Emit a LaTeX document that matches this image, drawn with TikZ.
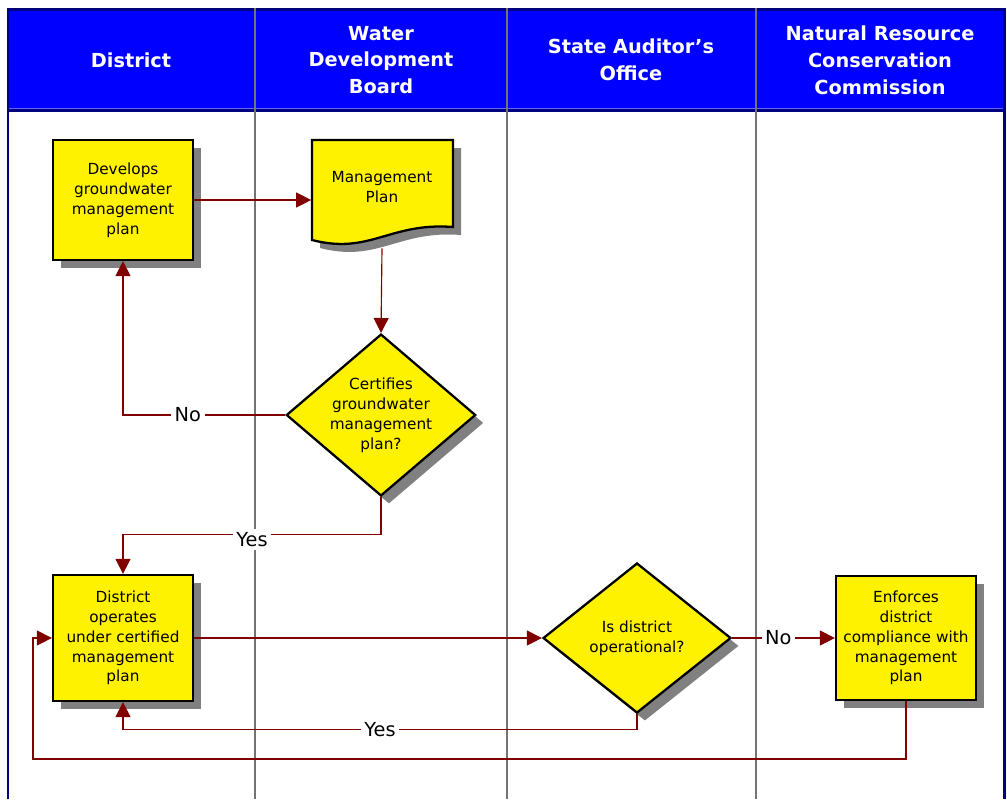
\documentclass[tikz,border=0pt]{standalone}
\usepackage{fontspec}
\setmainfont{DejaVu Sans}
\usetikzlibrary{arrows.meta,shapes.geometric,shadows,positioning}

\definecolor{laneblue}{RGB}{0,0,255}
\definecolor{lanenavy}{RGB}{0,0,128}
\definecolor{flowred}{RGB}{128,0,0}
\definecolor{shadowgray}{RGB}{128,128,128}

\tikzset{
  stepshadow/.style={drop shadow={shadow xshift=4.5pt, shadow yshift=-4.5pt, fill=shadowgray, opacity=1}},
  taskbox/.style={rectangle, draw=black, line width=1.3pt, fill=yellow, minimum width=2.8cm,
    minimum height=2.4cm, text width=2.6cm, align=center, inner sep=0pt,
    font=\fontsize{8.7}{11.3}\selectfont, stepshadow},
  decision/.style={diamond, draw=black, line width=1.3pt, fill=yellow, inner sep=0pt,
    align=center, font=\fontsize{8.7}{11.3}\selectfont, stepshadow},
  flow/.style={draw=flowred, line width=0.65pt},
  flowarrow/.style={flow, -{Triangle[length=8.5pt,width=8.5pt]}},
  answer/.style={fill=white, font=\fontsize{11}{13}\selectfont, inner sep=2pt},
  lanehead/.style={text=white, font=\bfseries\fontsize{11}{15.3}\selectfont, align=center},
  lane/.style={draw=black!55, line width=1.2pt}
}

\begin{document}
\begin{tikzpicture}[x=0.02cm, y=-0.02cm]
    \useasboundingbox (0,0) rectangle (1007,799);

    \fill[laneblue] (7,8) rectangle (1005,110);
    \draw[blue!60!white, line width=0.5pt] (9,108) -- (1003,108);
    \draw[lanenavy, line width=1.7pt] (8,799) -- (8,9) -- (1004,9) -- (1004,799);
    \draw[lanenavy, line width=1.5pt] (8,110.5) -- (1004,110.5);

    \foreach \x in {255,507,756}
    \draw[lane] (\x,8) -- (\x,799);

    \node[lanehead] (hdistrict) at (131,60) {District};
    \node[lanehead] (hboard) at (381,60) {Water\\Development\\Board};
    \node[lanehead] (hauditor) at (631,60) {State Auditor’s\\Office};
    \node[lanehead] (hcommission) at (880,60) {Natural Resource\\Conservation\\Commission};

    \node[taskbox] (develop) at (123,200) {Develops\\groundwater\\management\\plan};

    \fill[shadowgray] (320,148) -- (461,148) -- (461,235) .. controls (398,230) and (378,263) .. (320,248) -- cycle;
    \draw[line width=1.3pt, fill=yellow] (312,140) -- (453,140) -- (453,227) .. controls (390,222) and (370,255) .. (312,240) -- cycle;
    \node[minimum width=2.82cm, minimum height=2.44cm, align=center,
      font=\fontsize{8.7}{11.3}\selectfont] (plan) at (382,187) {Management\\Plan};

    \node[decision, minimum width=3.66cm, minimum height=3.14cm, aspect=1.17] (certify) at (381,415)
      {Certifies\\groundwater\\management\\plan?};

    \node[taskbox, minimum height=2.52cm] (operate) at (123,638) {District\\operates\\under certified\\management\\plan};
    \node[decision, minimum width=3.76cm, minimum height=3.0cm, aspect=1.25] (operational) at (637,638)
      {Is district\\operational?};
    \node[taskbox, minimum height=2.48cm] (enforce) at (906,638) {Enforces\\district\\compliance with\\management\\plan};

    \coordinate (back) at (33,759);

    \draw[flowarrow] (develop.east) -- (develop.east -| plan.west);
    \draw[flowarrow] (plan.south) -- (certify.north);
    \draw[flowarrow] (certify.west) -| node[answer, pos=0.3] {No} (develop.south);
    \draw[flowarrow] (certify.south) -- ++(0,37) -| node[answer, pos=0.25, yshift=-3pt] {Yes} (operate.north);
    \draw[flowarrow] (operate.east) -- (operational.west);
    \draw[flowarrow] (operational.east) -- node[answer, pos=0.45] {No} (enforce.west);
    \draw[flowarrow] (operational.south) -- ++(0,15) -| node[answer, pos=0.25] {Yes} (operate.south);
    \draw[flowarrow] (enforce.south) |- (back) |- (operate.west);
\end{tikzpicture}
\end{document}
